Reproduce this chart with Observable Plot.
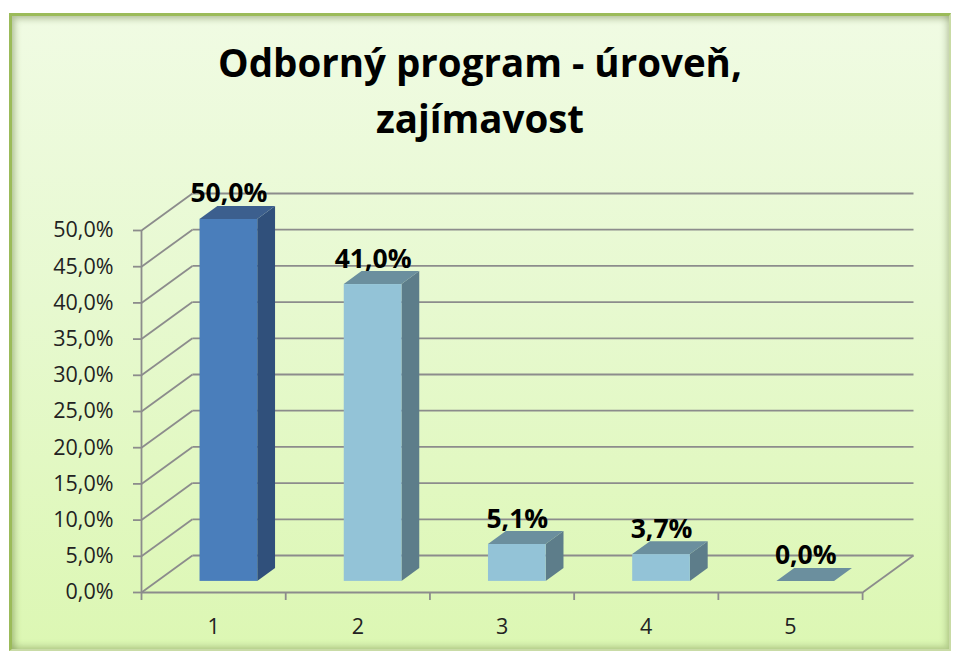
<!DOCTYPE html>
<html>
<head>
<meta charset="utf-8">
<script src="https://cdn.jsdelivr.net/npm/d3@7"></script>
<script src="https://cdn.jsdelivr.net/npm/@observablehq/plot@0.6"></script>
<style>
  html, body { margin: 0; padding: 0; background: #ffffff; width: 956px; height: 655px; overflow: hidden; }
  #panel {
    position: absolute; left: 9px; top: 13px; width: 937px; height: 633px;
    border-left: 3px solid #9bbb59; border-top: 3px solid #9bbb59;
    border-right: 2px solid #c9dba6; border-bottom: 2px solid #c9dba6;
    background: linear-gradient(180deg, #f0fbe3 0%, #e7f9d0 45%, #dcf7b3 100%);
    box-shadow: inset 3px 3px 6px rgba(80,100,40,0.35), inset -3px -3px 6px rgba(80,100,40,0.25);
  }
  #title {
    position: absolute; left: 9px; width: 942px; top: 34px; text-align: center;
    font-family: "Open Sans", sans-serif; font-weight: 700; font-size: 38.5px; line-height: 56px; color: #000;
  }
  #chart { position: absolute; left: 0; top: 0; }
</style>
</head>
<body>
<div id="panel"></div>
<div id="title">Odborný program - úroveň,<br>zajímavost</div>
<div id="chart"></div>
<script>
// ---- data ----
const categories = ["1", "2", "3", "4", "5"];
const values = [50.0, 41.0, 5.1, 3.7, 0.0];
const yTicks = [0, 5, 10, 15, 20, 25, 30, 35, 40, 45, 50];

// ---- 3D styling (in data units) ----
const D = 0.353;     // depth offset along x
const H = 5.11;      // depth offset along y
const fF = 0.30, fB = 0.65; // bar front/back depth fractions
const hw = 0.2;      // half bar width
const frontCol = i => i === 0 ? "#4a7ebb" : "#93c3d7";
const sideCol  = i => i === 0 ? "#30507b" : "#5d7d8a";
const topCol   = i => i === 0 ? "#3c5f8e" : "#6b8f9e";
const grid = "#8c8c8c";
const fmt = v => v.toFixed(1).replace(".", ",") + "%";

const bars = categories.map((c, i) => ({i, x: i + 1, v: values[i], c}));
const sideFaces = bars.flatMap(d => [fF, fB].map(f => ({i: d.i, x: d.x + hw + f * D, y1: f * H, y2: d.v + f * H})));
const topFaces = bars.flatMap(d => [fF, fB].map(f => ({i: d.i, y: d.v + f * H, x1: d.x - hw + f * D, x2: d.x + hw + f * D})));
const bounds = d3.range(categories.length + 1).map(k => k + 0.5);

const chart = Plot.plot({
  width: 956, height: 655,
  marginLeft: 141, marginRight: 43, marginTop: 193, marginBottom: 63,
  style: {background: "transparent", fontFamily: "Open Sans, sans-serif", overflow: "visible", color: "#222"},
  x: {domain: [0.5, categories.length + 0.5 + D], axis: null},
  y: {domain: [0, 50 + H], axis: null},
  color: {type: "identity"},
  marks: [
    // side wall diagonals and back wall grid
    Plot.link(yTicks, {x1: 0.5, y1: d => d, x2: 0.5 + D, y2: d => d + H, stroke: grid, strokeWidth: 1.8}),
    Plot.link(yTicks, {x1: 0.5 + D, x2: categories.length + 0.5 + D, y1: d => d + H, y2: d => d + H, stroke: grid, strokeWidth: 1.8}),
    Plot.link([0], {x1: categories.length + 0.5, y1: 0, x2: categories.length + 0.5 + D, y2: H, stroke: grid, strokeWidth: 1.8}),
    Plot.ruleX([0.5], {y1: 0, y2: 50, stroke: grid, strokeWidth: 1.8}),
    Plot.ruleY([0], {x1: 0.5, x2: categories.length + 0.5, stroke: grid, strokeWidth: 1.8}),
    // axes
    Plot.axisY({ticks: yTicks, tickSize: 8, tickPadding: 20, tickFormat: fmt, fontSize: 21.5, stroke: grid, strokeWidth: 1.8, strokeOpacity: 1, fill: "#222"}),
    Plot.axisX({ticks: bounds, tickSize: 8, tickFormat: () => "", stroke: grid, strokeWidth: 1.8, strokeOpacity: 1}),
    Plot.axisX({ticks: bars.map(d => d.x), tickSize: 0, tickPadding: 26, tickFormat: x => categories[x - 1], fontSize: 21.5, fill: "#222"}),
    // bars
    Plot.areaY(sideFaces, {x: "x", y1: "y1", y2: "y2", z: "i", fill: d => sideCol(d.i)}),
    Plot.rect(bars, {x1: d => d.x - hw + fF * D, x2: d => d.x + hw + fF * D, y1: fF * H, y2: d => d.v + fF * H, fill: d => frontCol(d.i)}),
    Plot.areaX(topFaces, {y: "y", x1: "x1", x2: "x2", z: "i", fill: d => topCol(d.i)}),
    // labels
    Plot.text(bars, {x: d => d.x + fF * D, y: d => d.v + fB * H, text: d => fmt(d.v), lineAnchor: "bottom", dy: -4, fontSize: 26.5, fontWeight: "bold", fill: "#000"})
  ]
});
document.getElementById("chart").appendChild(chart);
</script>
</body>
</html>
